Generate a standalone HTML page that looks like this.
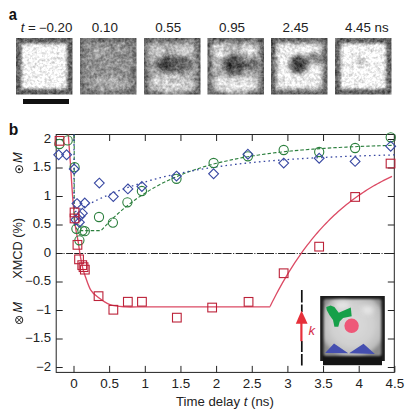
<!DOCTYPE html>
<html><head><meta charset="utf-8"><style>
html,body{margin:0;padding:0;background:#fff;width:416px;height:417px;overflow:hidden}
svg{display:block}
</style></head><body>
<svg width="416" height="417" viewBox="0 0 416 417">
<rect width="416" height="417" fill="#fff"/>
<svg x="16.0" y="38.0" width="56.5" height="56.5" viewBox="0 0 56 56" preserveAspectRatio="none" overflow="hidden"><defs><filter id="f0" filterUnits="userSpaceOnUse" x="-10" y="-10" width="76" height="76" color-interpolation-filters="sRGB"><feGaussianBlur in="SourceGraphic" stdDeviation="1.7" result="b"/><feTurbulence type="fractalNoise" baseFrequency="0.2" numOctaves="2" seed="3" result="t1"/><feTurbulence type="fractalNoise" baseFrequency="0.42" numOctaves="2" seed="11" result="t2"/><feColorMatrix in="t1" type="matrix" values="1 0 0 0 0  1 0 0 0 0  1 0 0 0 0  0 0 0 0 1" result="g1"/><feColorMatrix in="t2" type="matrix" values="1 0 0 0 0  1 0 0 0 0  1 0 0 0 0  0 0 0 0 1" result="g2"/><feComposite in="b" in2="g1" operator="arithmetic" k1="0" k2="1" k3="0.3" k4="-0.15" result="c1"/><feComposite in="c1" in2="g2" operator="arithmetic" k1="0" k2="1" k3="0.45" k4="-0.225"/></filter></defs><g filter="url(#f0)"><rect x="-10" y="-10" width="76" height="76" fill="#5e5e5e"/><rect x="5.5" y="5.5" width="45" height="45" fill="#f4f4f4"/></g></svg><svg x="80.0" y="38.0" width="56.5" height="56.5" viewBox="0 0 56 56" preserveAspectRatio="none" overflow="hidden"><defs><filter id="f1" filterUnits="userSpaceOnUse" x="-10" y="-10" width="76" height="76" color-interpolation-filters="sRGB"><feGaussianBlur in="SourceGraphic" stdDeviation="2.2" result="b"/><feTurbulence type="fractalNoise" baseFrequency="0.2" numOctaves="2" seed="10" result="t1"/><feTurbulence type="fractalNoise" baseFrequency="0.42" numOctaves="2" seed="16" result="t2"/><feColorMatrix in="t1" type="matrix" values="1 0 0 0 0  1 0 0 0 0  1 0 0 0 0  0 0 0 0 1" result="g1"/><feColorMatrix in="t2" type="matrix" values="1 0 0 0 0  1 0 0 0 0  1 0 0 0 0  0 0 0 0 1" result="g2"/><feComposite in="b" in2="g1" operator="arithmetic" k1="0" k2="1" k3="0.4" k4="-0.2" result="c1"/><feComposite in="c1" in2="g2" operator="arithmetic" k1="0" k2="1" k3="0.35" k4="-0.175"/></filter></defs><g filter="url(#f1)"><rect x="-10" y="-10" width="76" height="76" fill="#707070"/><rect x="4" y="4" width="48" height="48" fill="#909090"/><ellipse cx="30" cy="45" rx="18" ry="8" fill="#a8a8a8"/><ellipse cx="20" cy="14" rx="12" ry="7" fill="#9c9c9c"/></g></svg><svg x="144.0" y="38.0" width="56.5" height="56.5" viewBox="0 0 56 56" preserveAspectRatio="none" overflow="hidden"><defs><filter id="f2" filterUnits="userSpaceOnUse" x="-10" y="-10" width="76" height="76" color-interpolation-filters="sRGB"><feGaussianBlur in="SourceGraphic" stdDeviation="2.2" result="b"/><feTurbulence type="fractalNoise" baseFrequency="0.2" numOctaves="2" seed="17" result="t1"/><feTurbulence type="fractalNoise" baseFrequency="0.42" numOctaves="2" seed="21" result="t2"/><feColorMatrix in="t1" type="matrix" values="1 0 0 0 0  1 0 0 0 0  1 0 0 0 0  0 0 0 0 1" result="g1"/><feColorMatrix in="t2" type="matrix" values="1 0 0 0 0  1 0 0 0 0  1 0 0 0 0  0 0 0 0 1" result="g2"/><feComposite in="b" in2="g1" operator="arithmetic" k1="0" k2="1" k3="0.4" k4="-0.2" result="c1"/><feComposite in="c1" in2="g2" operator="arithmetic" k1="0" k2="1" k3="0.38" k4="-0.19"/></filter></defs><g filter="url(#f2)"><rect x="-10" y="-10" width="76" height="76" fill="#606060"/><rect x="4" y="4" width="48" height="48" fill="#a8a8a8"/><ellipse cx="12" cy="13" rx="9" ry="6" fill="#cacaca"/><ellipse cx="39" cy="12" rx="9" ry="6" fill="#d2d2d2"/><ellipse cx="28" cy="46" rx="22" ry="9" fill="#d0d0d0"/><ellipse cx="30" cy="26" rx="18" ry="9" fill="#666666"/><ellipse cx="22" cy="25" rx="8" ry="7" fill="#484848"/></g></svg><svg x="207.5" y="38.0" width="56.5" height="56.5" viewBox="0 0 56 56" preserveAspectRatio="none" overflow="hidden"><defs><filter id="f3" filterUnits="userSpaceOnUse" x="-10" y="-10" width="76" height="76" color-interpolation-filters="sRGB"><feGaussianBlur in="SourceGraphic" stdDeviation="2.2" result="b"/><feTurbulence type="fractalNoise" baseFrequency="0.2" numOctaves="2" seed="24" result="t1"/><feTurbulence type="fractalNoise" baseFrequency="0.42" numOctaves="2" seed="26" result="t2"/><feColorMatrix in="t1" type="matrix" values="1 0 0 0 0  1 0 0 0 0  1 0 0 0 0  0 0 0 0 1" result="g1"/><feColorMatrix in="t2" type="matrix" values="1 0 0 0 0  1 0 0 0 0  1 0 0 0 0  0 0 0 0 1" result="g2"/><feComposite in="b" in2="g1" operator="arithmetic" k1="0" k2="1" k3="0.4" k4="-0.2" result="c1"/><feComposite in="c1" in2="g2" operator="arithmetic" k1="0" k2="1" k3="0.38" k4="-0.19"/></filter></defs><g filter="url(#f3)"><rect x="-10" y="-10" width="76" height="76" fill="#5e5e5e"/><rect x="4" y="4" width="48" height="48" fill="#b0b0b0"/><ellipse cx="12" cy="13" rx="9" ry="7" fill="#dadada"/><ellipse cx="41" cy="12" rx="9" ry="7" fill="#d4d4d4"/><ellipse cx="28" cy="46" rx="23" ry="9" fill="#e0e0e0"/><ellipse cx="43" cy="26" rx="9" ry="6" fill="#707070"/><ellipse cx="27" cy="27" rx="12" ry="11" fill="#5c5c5c"/><ellipse cx="25" cy="27" rx="6" ry="6" fill="#464646"/></g></svg><svg x="271.0" y="38.0" width="56.5" height="56.5" viewBox="0 0 56 56" preserveAspectRatio="none" overflow="hidden"><defs><filter id="f4" filterUnits="userSpaceOnUse" x="-10" y="-10" width="76" height="76" color-interpolation-filters="sRGB"><feGaussianBlur in="SourceGraphic" stdDeviation="2.2" result="b"/><feTurbulence type="fractalNoise" baseFrequency="0.2" numOctaves="2" seed="31" result="t1"/><feTurbulence type="fractalNoise" baseFrequency="0.42" numOctaves="2" seed="31" result="t2"/><feColorMatrix in="t1" type="matrix" values="1 0 0 0 0  1 0 0 0 0  1 0 0 0 0  0 0 0 0 1" result="g1"/><feColorMatrix in="t2" type="matrix" values="1 0 0 0 0  1 0 0 0 0  1 0 0 0 0  0 0 0 0 1" result="g2"/><feComposite in="b" in2="g1" operator="arithmetic" k1="0" k2="1" k3="0.3" k4="-0.15" result="c1"/><feComposite in="c1" in2="g2" operator="arithmetic" k1="0" k2="1" k3="0.42" k4="-0.21"/></filter></defs><g filter="url(#f4)"><rect x="-10" y="-10" width="76" height="76" fill="#5e5e5e"/><rect x="5" y="5" width="46" height="46" fill="#ececec"/><ellipse cx="44" cy="20" rx="9" ry="6" fill="#888888"/><ellipse cx="27.5" cy="26" rx="9.5" ry="9.5" fill="#505050"/><ellipse cx="27" cy="26" rx="5" ry="5" fill="#3e3e3e"/></g></svg><svg x="335.0" y="38.0" width="56.5" height="56.5" viewBox="0 0 56 56" preserveAspectRatio="none" overflow="hidden"><defs><filter id="f5" filterUnits="userSpaceOnUse" x="-10" y="-10" width="76" height="76" color-interpolation-filters="sRGB"><feGaussianBlur in="SourceGraphic" stdDeviation="1.7" result="b"/><feTurbulence type="fractalNoise" baseFrequency="0.2" numOctaves="2" seed="38" result="t1"/><feTurbulence type="fractalNoise" baseFrequency="0.42" numOctaves="2" seed="36" result="t2"/><feColorMatrix in="t1" type="matrix" values="1 0 0 0 0  1 0 0 0 0  1 0 0 0 0  0 0 0 0 1" result="g1"/><feColorMatrix in="t2" type="matrix" values="1 0 0 0 0  1 0 0 0 0  1 0 0 0 0  0 0 0 0 1" result="g2"/><feComposite in="b" in2="g1" operator="arithmetic" k1="0" k2="1" k3="0.3" k4="-0.15" result="c1"/><feComposite in="c1" in2="g2" operator="arithmetic" k1="0" k2="1" k3="0.45" k4="-0.225"/></filter></defs><g filter="url(#f5)"><rect x="-10" y="-10" width="76" height="76" fill="#626262"/><rect x="5.5" y="5.5" width="45" height="45" fill="#f4f4f4"/><ellipse cx="25" cy="24" rx="5" ry="5" fill="#c4c4c4"/></g></svg><rect x="23" y="99" width="46" height="5" fill="#111"/><text transform="translate(8.7 19.7) scale(0.92 1)" font-family="Liberation Sans, sans-serif" font-size="16" font-weight="bold" fill="#111">a</text><text x="8.7" y="134.5" font-family="Liberation Sans, sans-serif" font-size="15.6" font-weight="bold" fill="#111">b</text><text transform="translate(20.7 31.8) scale(1.11 1)" font-family="Liberation Sans, sans-serif" font-size="12" font-style="italic" fill="#222">t</text><text transform="translate(28.1 31.8) scale(1.11 1)" font-family="Liberation Sans, sans-serif" font-size="12" fill="#222">=</text><text transform="translate(38.7 31.8) scale(1.11 1)" font-family="Liberation Sans, sans-serif" font-size="12" fill="#222">−0.20</text><text transform="translate(104.8 31.8) scale(1.12 1)" font-family="Liberation Sans, sans-serif" font-size="12" text-anchor="middle" fill="#222">0.10</text><text transform="translate(168.2 31.8) scale(1.12 1)" font-family="Liberation Sans, sans-serif" font-size="12" text-anchor="middle" fill="#222">0.55</text><text transform="translate(232.0 31.8) scale(1.12 1)" font-family="Liberation Sans, sans-serif" font-size="12" text-anchor="middle" fill="#222">0.95</text><text transform="translate(295.5 31.8) scale(1.12 1)" font-family="Liberation Sans, sans-serif" font-size="12" text-anchor="middle" fill="#222">2.45</text><text transform="translate(345 31.8) scale(1.11 1)" font-family="Liberation Sans, sans-serif" font-size="12" fill="#222">4.45 ns</text><g stroke="#222" stroke-width="1" fill="none"><rect x="56.2" y="134.5" width="338.1" height="237.9"/><path d="M74.00 134.5 v6.5 M74.00 372.4 v-6.5"/><path d="M109.65 134.5 v6.5 M109.65 372.4 v-6.5"/><path d="M145.30 134.5 v6.5 M145.30 372.4 v-6.5"/><path d="M180.95 134.5 v6.5 M180.95 372.4 v-6.5"/><path d="M216.60 134.5 v6.5 M216.60 372.4 v-6.5"/><path d="M252.25 134.5 v6.5 M252.25 372.4 v-6.5"/><path d="M287.90 134.5 v6.5 M287.90 372.4 v-6.5"/><path d="M323.55 134.5 v6.5 M323.55 372.4 v-6.5"/><path d="M359.20 134.5 v6.5 M359.20 372.4 v-6.5"/><path d="M394.85 134.5 v6.5 M394.85 372.4 v-6.5"/><path d="M56.2 367.50 h6.5 M394.3 367.50 h-6.5"/><path d="M56.2 339.00 h6.5 M394.3 339.00 h-6.5"/><path d="M56.2 310.50 h6.5 M394.3 310.50 h-6.5"/><path d="M56.2 282.00 h6.5 M394.3 282.00 h-6.5"/><path d="M56.2 253.50 h6.5 M394.3 253.50 h-6.5"/><path d="M56.2 225.00 h6.5 M394.3 225.00 h-6.5"/><path d="M56.2 196.50 h6.5 M394.3 196.50 h-6.5"/><path d="M56.2 168.00 h6.5 M394.3 168.00 h-6.5"/><path d="M56.2 139.50 h6.5 M394.3 139.50 h-6.5"/></g><text transform="translate(51 370.7) scale(1.1 1)" font-family="Liberation Sans, sans-serif" font-size="12" text-anchor="end" fill="#222">−2</text><text transform="translate(51 342.2) scale(1.1 1)" font-family="Liberation Sans, sans-serif" font-size="12" text-anchor="end" fill="#222">−1.5</text><text transform="translate(51 313.7) scale(1.1 1)" font-family="Liberation Sans, sans-serif" font-size="12" text-anchor="end" fill="#222">−1</text><text transform="translate(51 285.2) scale(1.1 1)" font-family="Liberation Sans, sans-serif" font-size="12" text-anchor="end" fill="#222">−0.5</text><text transform="translate(51 256.7) scale(1.1 1)" font-family="Liberation Sans, sans-serif" font-size="12" text-anchor="end" fill="#222">0</text><text transform="translate(51 228.2) scale(1.1 1)" font-family="Liberation Sans, sans-serif" font-size="12" text-anchor="end" fill="#222">0.5</text><text transform="translate(51 199.7) scale(1.1 1)" font-family="Liberation Sans, sans-serif" font-size="12" text-anchor="end" fill="#222">1</text><text transform="translate(51 171.2) scale(1.1 1)" font-family="Liberation Sans, sans-serif" font-size="12" text-anchor="end" fill="#222">1.5</text><text transform="translate(51 142.7) scale(1.1 1)" font-family="Liberation Sans, sans-serif" font-size="12" text-anchor="end" fill="#222">2</text><text transform="translate(74.0 388) scale(1.12 1)" font-family="Liberation Sans, sans-serif" font-size="12" text-anchor="middle" fill="#222">0</text><text transform="translate(109.7 388) scale(1.12 1)" font-family="Liberation Sans, sans-serif" font-size="12" text-anchor="middle" fill="#222">0.5</text><text transform="translate(145.3 388) scale(1.12 1)" font-family="Liberation Sans, sans-serif" font-size="12" text-anchor="middle" fill="#222">1</text><text transform="translate(180.9 388) scale(1.12 1)" font-family="Liberation Sans, sans-serif" font-size="12" text-anchor="middle" fill="#222">1.5</text><text transform="translate(216.6 388) scale(1.12 1)" font-family="Liberation Sans, sans-serif" font-size="12" text-anchor="middle" fill="#222">2</text><text transform="translate(252.2 388) scale(1.12 1)" font-family="Liberation Sans, sans-serif" font-size="12" text-anchor="middle" fill="#222">2.5</text><text transform="translate(287.9 388) scale(1.12 1)" font-family="Liberation Sans, sans-serif" font-size="12" text-anchor="middle" fill="#222">3</text><text transform="translate(323.5 388) scale(1.12 1)" font-family="Liberation Sans, sans-serif" font-size="12" text-anchor="middle" fill="#222">3.5</text><text transform="translate(359.2 388) scale(1.12 1)" font-family="Liberation Sans, sans-serif" font-size="12" text-anchor="middle" fill="#222">4</text><text transform="translate(394.8 388) scale(1.12 1)" font-family="Liberation Sans, sans-serif" font-size="12" text-anchor="middle" fill="#222">4.5</text><text transform="translate(176 406.3) scale(1.1 1)" font-family="Liberation Sans, sans-serif" font-size="12" fill="#222">Time delay <tspan font-style="italic">t</tspan> (ns)</text><text transform="translate(22.2 248.4) rotate(-90) scale(1.02 1)" font-family="Liberation Sans, sans-serif" font-size="12.5" text-anchor="middle" fill="#222">XMCD (%)</text><text transform="translate(21.7 157.5) rotate(-90)" font-family="Liberation Sans, sans-serif" font-size="13" font-style="italic" text-anchor="middle" fill="#111">M</text><circle cx="19.2" cy="169.2" r="3.6" fill="none" stroke="#222" stroke-width="1"/><circle cx="19.2" cy="169.2" r="1.2" fill="#222"/><text transform="translate(21.7 307.3) rotate(-90)" font-family="Liberation Sans, sans-serif" font-size="13" font-style="italic" text-anchor="middle" fill="#111">M</text><circle cx="19.2" cy="320" r="3.6" fill="none" stroke="#222" stroke-width="1"/><path d="M16.7 317.5 L21.7 322.5 M21.7 317.5 L16.7 322.5" stroke="#222" stroke-width="0.9"/><line x1="56.2" y1="253.5" x2="394.3" y2="253.5" stroke="#222" stroke-width="1" stroke-dasharray="7 1.1 9 1.5 1.1 1.5" stroke-dashoffset="11.3"/><path d="M68.30 134.50 C68.48 137.08 69.02 144.75 69.40 150.00 C69.78 155.25 70.07 158.33 70.60 166.00 C71.13 173.67 71.83 186.17 72.60 196.00 C73.37 205.83 74.25 217.25 75.20 225.00 C76.15 232.75 77.47 237.43 78.30 242.50 C79.13 247.57 79.45 251.08 80.20 255.40 C80.95 259.72 82.03 265.15 82.80 268.40 C83.57 271.65 83.50 271.33 84.80 274.90 C86.10 278.47 88.32 286.02 90.60 289.80 C92.88 293.58 95.27 295.13 98.50 297.60 C101.73 300.07 105.58 303.07 110.00 304.60 C114.42 306.13 120.00 306.43 125.00 306.80 C130.00 307.17 137.50 306.80 140.00 306.80 L270.2 306.8" stroke="#dc4a64" stroke-width="1.35" fill="none"/><path d="M270.07 306.51 L272.14 302.33 L274.21 298.24 L276.27 294.27 L278.34 290.39 L280.41 286.60 L282.47 282.91 L284.54 279.31 L286.61 275.81 L288.67 272.39 L290.74 269.05 L292.81 265.80 L294.87 262.63 L296.94 259.53 L299.01 256.52 L301.07 253.58 L303.14 250.71 L305.21 247.91 L307.27 245.19 L309.34 242.53 L311.40 239.94 L313.47 237.41 L315.54 234.94 L317.60 232.54 L319.67 230.19 L321.74 227.91 L323.80 225.68 L325.87 223.51 L327.94 221.39 L330.00 219.32 L332.07 217.31 L334.14 215.34 L336.20 213.43 L338.27 211.56 L340.34 209.74 L342.40 207.96 L344.47 206.23 L346.54 204.54 L348.60 202.89 L350.67 201.29 L352.73 199.72 L354.80 198.19 L356.87 196.70 L358.93 195.25 L361.00 193.84 L363.07 192.45 L365.13 191.11 L367.20 189.80 L369.27 188.52 L371.33 187.27 L373.40 186.05 L375.47 184.86 L377.53 183.71 L379.60 182.58 L381.67 181.48 L383.73 180.40 L385.80 179.36 L387.87 178.34 L389.93 177.34 L392.00 176.37" stroke="#dc4a64" stroke-width="1.3" fill="none"/><path d="M74.20 134.50 L74.20 225.00 L78.00 230.60 L101.09 230.60 L104.81 226.49 L108.53 222.63 L112.25 218.96 L115.97 215.45 L119.69 212.11 L123.40 208.92 L127.12 205.88 L130.84 202.98 L134.56 200.22 L138.28 197.58 L142.00 195.07 L145.72 192.67 L149.43 190.38 L153.15 188.20 L156.87 186.12 L160.59 184.13 L164.31 182.24 L168.03 180.43 L171.74 178.71 L175.46 177.07 L179.18 175.51 L182.90 174.01 L186.62 172.59 L190.34 171.23 L194.05 169.94 L197.77 168.70 L201.49 167.52 L205.21 166.40 L208.93 165.33 L212.65 164.31 L216.37 163.33 L220.08 162.40 L223.80 161.52 L227.52 160.67 L231.24 159.87 L234.96 159.10 L238.68 158.36 L242.39 157.66 L246.11 157.00 L249.83 156.36 L253.55 155.75 L257.27 155.18 L260.99 154.62 L264.70 154.10 L268.42 153.60 L272.14 153.12 L275.86 152.66 L279.58 152.23 L283.30 151.81 L287.02 151.42 L290.73 151.04 L294.45 150.68 L298.17 150.33 L301.89 150.01 L305.61 149.69 L309.33 149.40 L313.04 149.11 L316.76 148.84 L320.48 148.58 L324.20 148.34 L327.92 148.10 L331.64 147.88 L335.36 147.66 L339.07 147.46 L342.79 147.27 L346.51 147.08 L350.23 146.90 L353.95 146.74 L357.67 146.57 L361.38 146.42 L365.10 146.27 L368.82 146.14 L372.54 146.00 L376.26 145.88 L379.98 145.75 L383.69 145.64 L387.41 145.53 L391.13 145.42 L394.85 145.32" stroke="#2b7f3d" stroke-width="1.1" fill="none" stroke-dasharray="3.5 2"/><path d="M74.00 134.50 L74.00 205.00 L75.43 211.55 L79.47 209.21 L83.51 206.96 L87.56 204.80 L91.60 202.72 L95.64 200.73 L99.69 198.81 L103.73 196.97 L107.77 195.21 L111.82 193.51 L115.86 191.88 L119.90 190.32 L123.95 188.82 L127.99 187.38 L132.03 185.99 L136.08 184.66 L140.12 183.39 L144.16 182.16 L148.21 180.98 L152.25 179.85 L156.29 178.76 L160.34 177.72 L164.38 176.72 L168.42 175.76 L172.47 174.84 L176.51 173.95 L180.55 173.10 L184.60 172.28 L188.64 171.49 L192.68 170.74 L196.73 170.02 L200.77 169.32 L204.81 168.65 L208.86 168.01 L212.90 167.39 L216.94 166.80 L220.99 166.24 L225.03 165.69 L229.07 165.17 L233.12 164.66 L237.16 164.18 L241.20 163.72 L245.25 163.27 L249.29 162.84 L253.33 162.43 L257.38 162.04 L261.42 161.66 L265.46 161.30 L269.51 160.95 L273.55 160.61 L277.59 160.29 L281.64 159.98 L285.68 159.68 L289.72 159.40 L293.77 159.12 L297.81 158.86 L301.85 158.61 L305.90 158.36 L309.94 158.13 L313.98 157.91 L318.03 157.69 L322.07 157.49 L326.11 157.29 L330.16 157.10 L334.20 156.92 L338.24 156.74 L342.29 156.57 L346.33 156.41 L350.37 156.25 L354.42 156.11 L358.46 155.96 L362.50 155.82 L366.55 155.69 L370.59 155.57 L374.63 155.44 L378.68 155.33 L382.72 155.21 L386.76 155.11 L390.81 155.00 L394.85 154.90" stroke="#3848a2" stroke-width="1.3" fill="none" stroke-dasharray="1.6 3.2"/><g fill="none" stroke="#2b7f3d" stroke-width="1.1"><circle cx="59.4" cy="144.0" r="4.6"/><circle cx="67.7" cy="140.4" r="4.6"/><circle cx="74.6" cy="167.2" r="4.6"/><circle cx="76.4" cy="228.8" r="4.6"/><circle cx="82.4" cy="230.6" r="4.6"/><circle cx="84.8" cy="231.2" r="4.6"/><circle cx="79.4" cy="240.3" r="4.6"/><circle cx="99.0" cy="217.0" r="4.6"/><circle cx="112.9" cy="222.6" r="4.6"/><circle cx="127.4" cy="202.3" r="4.6"/><circle cx="141.9" cy="191.0" r="4.6"/><circle cx="176.5" cy="178.8" r="4.6"/><circle cx="213.6" cy="163.0" r="4.6"/><circle cx="247.9" cy="156.3" r="4.6"/><circle cx="283.7" cy="150.0" r="4.6"/><circle cx="319.2" cy="152.0" r="4.6"/><circle cx="355.1" cy="148.0" r="4.6"/><circle cx="390.7" cy="137.3" r="4.6"/></g><g fill="none" stroke="#3848a2" stroke-width="1.1"><path d="M58.7 149.9 l4.9 4.9 l-4.9 4.9 l-4.9 -4.9z"/><path d="M66.6 149.9 l4.9 4.9 l-4.9 4.9 l-4.9 -4.9z"/><path d="M74.2 164.1 l4.9 4.9 l-4.9 4.9 l-4.9 -4.9z"/><path d="M77.0 198.7 l4.9 4.9 l-4.9 4.9 l-4.9 -4.9z"/><path d="M84.8 198.1 l4.9 4.9 l-4.9 4.9 l-4.9 -4.9z"/><path d="M82.4 208.3 l4.9 4.9 l-4.9 4.9 l-4.9 -4.9z"/><path d="M80.0 211.3 l4.9 4.9 l-4.9 4.9 l-4.9 -4.9z"/><path d="M79.4 217.3 l4.9 4.9 l-4.9 4.9 l-4.9 -4.9z"/><path d="M75.8 214.9 l4.9 4.9 l-4.9 4.9 l-4.9 -4.9z"/><path d="M99.3 178.2 l4.9 4.9 l-4.9 4.9 l-4.9 -4.9z"/><path d="M113.3 191.7 l4.9 4.9 l-4.9 4.9 l-4.9 -4.9z"/><path d="M127.9 184.0 l4.9 4.9 l-4.9 4.9 l-4.9 -4.9z"/><path d="M141.9 181.6 l4.9 4.9 l-4.9 4.9 l-4.9 -4.9z"/><path d="M176.5 171.2 l4.9 4.9 l-4.9 4.9 l-4.9 -4.9z"/><path d="M213.6 168.9 l4.9 4.9 l-4.9 4.9 l-4.9 -4.9z"/><path d="M247.9 149.3 l4.9 4.9 l-4.9 4.9 l-4.9 -4.9z"/><path d="M283.7 158.2 l4.9 4.9 l-4.9 4.9 l-4.9 -4.9z"/><path d="M319.2 153.3 l4.9 4.9 l-4.9 4.9 l-4.9 -4.9z"/><path d="M355.1 156.5 l4.9 4.9 l-4.9 4.9 l-4.9 -4.9z"/><path d="M390.7 141.3 l4.9 4.9 l-4.9 4.9 l-4.9 -4.9z"/></g><g fill="none" stroke="#bc2239" stroke-width="1.1"><rect x="55.2" y="136.5" width="8.7" height="8.7"/><rect x="70.2" y="208.1" width="8.7" height="8.7"/><rect x="70.2" y="214.1" width="8.7" height="8.7"/><rect x="73.1" y="240.5" width="8.7" height="8.7"/><rect x="74.7" y="255.0" width="8.7" height="8.7"/><rect x="77.9" y="260.8" width="8.7" height="8.7"/><rect x="79.2" y="262.8" width="8.7" height="8.7"/><rect x="80.5" y="265.3" width="8.7" height="8.7"/><rect x="94.2" y="291.8" width="8.7" height="8.7"/><rect x="109.0" y="305.4" width="8.7" height="8.7"/><rect x="123.5" y="297.4" width="8.7" height="8.7"/><rect x="137.6" y="297.4" width="8.7" height="8.7"/><rect x="172.5" y="313.3" width="8.7" height="8.7"/><rect x="207.8" y="303.2" width="8.7" height="8.7"/><rect x="244.2" y="297.5" width="8.7" height="8.7"/><rect x="279.3" y="268.9" width="8.7" height="8.7"/><rect x="314.8" y="242.3" width="8.7" height="8.7"/><rect x="350.8" y="192.6" width="8.7" height="8.7"/><rect x="386.2" y="159.2" width="8.7" height="8.7"/></g><path d="M301.8 290 V302.5 M301.8 304.5 V312 M301.8 341 V352 M301.8 354 V365.5" stroke="#111" stroke-width="1.7"/><path d="M301.4 341.2 V321" stroke="#e6303a" stroke-width="2.2"/><path d="M295.8 323.8 L301.5 310.6 L307.6 323.8 Z" fill="#e6303a"/><text x="308.6" y="334.6" font-family="Liberation Sans, sans-serif" font-size="13" font-style="italic" fill="#d42c48">k</text><g>
<defs>
<radialGradient id="vg" cx="50%" cy="45%" r="60%"><stop offset="0" stop-color="#dcdcdc"/><stop offset="0.6" stop-color="#d0d0d0"/><stop offset="0.88" stop-color="#bcbcbc"/><stop offset="1" stop-color="#8c8c8c"/></radialGradient>
<filter id="ib" x="-10%" y="-10%" width="120%" height="120%"><feGaussianBlur stdDeviation="1.3"/></filter>
<filter id="ib2" x="-50%" y="-50%" width="200%" height="200%"><feGaussianBlur stdDeviation="2.5"/></filter>
<filter id="ib3" x="-20%" y="-20%" width="140%" height="140%"><feGaussianBlur stdDeviation="0.35"/></filter>
</defs>
<rect x="320.2" y="296" width="64.6" height="65" fill="#1c1c1c"/>
<rect x="323" y="356" width="59" height="9.2" fill="#151515"/>
<rect x="323.6" y="299" width="57.8" height="57" rx="2.5" fill="url(#vg)" filter="url(#ib)"/>
<ellipse cx="342" cy="305" rx="8" ry="4" fill="#ececec" filter="url(#ib2)" opacity="0.8"/>
<ellipse cx="368" cy="310" rx="6" ry="4" fill="#eeeeee" filter="url(#ib2)" opacity="0.8"/>
<g filter="url(#ib3)">
<path d="M326.25 307.06 L330.6 305.6 L334.4 307.1 L338.75 312.8 L350.8 307.5 L351.7 316.2 L343.1 318.1 L339.7 321.5 L338.3 326.8 L334.4 326.8 L333 320 L329.6 315.2 L326.7 309.9 Z" fill="#17a04a"/>
<circle cx="351.6" cy="325.8" r="7.2" fill="#ee5878"/>
<path d="M325.1 352.9 L334 343.5 L348.3 353.2 Z M349.1 353.2 L363.5 343.8 L374.9 354.1 Z" fill="#4550b0"/>
</g>
</g>
</svg></body></html>
